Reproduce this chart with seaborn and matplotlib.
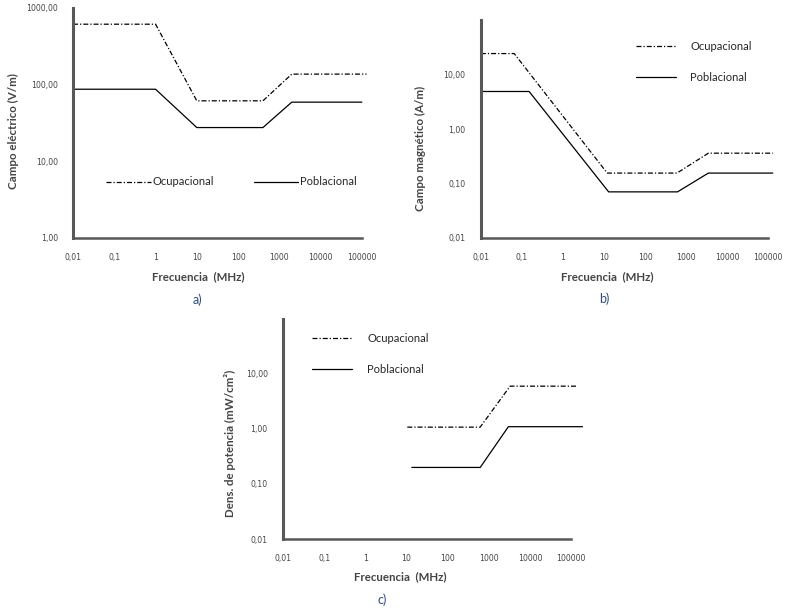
import matplotlib
matplotlib.use("Agg")
import matplotlib.pyplot as plt
import seaborn as sns

# Límites de exposición (frecuencia en MHz)
E_OCUP_F = [0.01, 1, 10, 400, 2000, 130000]
E_OCUP_V = [614, 614, 61.4, 61.4, 137, 137]
E_POBL_F = [0.01, 1, 10, 400, 2000, 100000]
E_POBL_V = [87, 87, 27.5, 27.5, 59, 59]

H_OCUP_F = [0.01, 0.065, 12, 600, 3500, 130000]
H_OCUP_V = [24.4, 24.4, 0.155, 0.155, 0.36, 0.36]
H_POBL_F = [0.01, 0.15, 13, 620, 3500, 130000]
H_POBL_V = [4.9, 4.9, 0.07, 0.07, 0.155, 0.155]

S_OCUP_F = [10.5, 620, 3300, 140000]
S_OCUP_V = [1.08, 1.08, 6.0, 6.0]
S_POBL_F = [13.5, 620, 3000, 190000]
S_POBL_V = [0.2, 0.2, 1.1, 1.1]

X_TICKS = [0.01, 0.1, 1, 10, 100, 1000, 10000, 100000]
X_LABELS = ["0,01", "0,1", "1", "10", "100", "1000", "10000", "100000"]

GRAY = "#585858"
DASHDOT = (0, (4, 1.6, 1, 1.6))

sns.set_style("white")
# ticks en DejaVu (cifras anchas); el resto del texto en Lato
plt.rcParams["font.family"] = ["DejaVu Sans"]
TXT_FONT = ["Lato", "DejaVu Sans"]

fig = plt.figure(figsize=(7.87, 6.13), dpi=100)


def style_axis(ax, ylim, yticks, ylabels):
    ax.set_xscale("log")
    ax.set_yscale("log")
    ax.set_xlim(0.01, 100000)
    ax.set_ylim(*ylim)
    ax.set_xticks(X_TICKS)
    ax.set_xticklabels(X_LABELS)
    ax.set_yticks(yticks)
    ax.set_yticklabels(ylabels)
    ax.minorticks_off()
    for s in ["top", "right"]:
        ax.spines[s].set_visible(False)
    ax.spines["left"].set_linewidth(2.2)
    ax.spines["bottom"].set_linewidth(1.8)
    for s in ["left", "bottom"]:
        ax.spines[s].set_color(GRAY)
    ax.tick_params(axis="both", length=3, width=1, color=GRAY,
                   labelsize=5.6, labelcolor="#444444", pad=8)
    ax.set_xlabel("")
    ax.set_ylabel("")


def draw(ax, fo, vo, fp, vp):
    sns.lineplot(x=fo, y=vo, ax=ax, color="black", lw=0.9, linestyle=DASHDOT,
                 estimator=None, sort=False, clip_on=False, label="Ocupacional")
    sns.lineplot(x=fp, y=vp, ax=ax, color="black", lw=0.9,
                 estimator=None, sort=False, clip_on=False, label="Poblacional")


leg_prop = {"family": TXT_FONT, "size": 8}

# a) Campo eléctrico
ax_a = fig.add_axes([0.0928, 0.612, 0.367, 0.375])
draw(ax_a, E_OCUP_F, E_OCUP_V, E_POBL_F, E_POBL_V)
style_axis(ax_a, (1, 1000), [1, 10, 100, 1000],
           ["1,00", "10,00", "100,00", "1000,00"])
ax_a.legend(loc="center left", bbox_to_anchor=(0.115, 0.243), ncol=2,
            frameon=False, prop=leg_prop, handlelength=4.0, handletextpad=0.15,
            columnspacing=3.6, borderpad=0, borderaxespad=0)

# b) Campo magnético
ax_b = fig.add_axes([0.611, 0.612, 0.365, 0.355])
draw(ax_b, H_OCUP_F, H_OCUP_V, H_POBL_F, H_POBL_V)
style_axis(ax_b, (0.01, 100), [0.01, 0.1, 1, 10],
           ["0,01", "0,10", "1,00", "10,00"])
ax_b.legend(loc="center left", bbox_to_anchor=(0.54, 0.807), frameon=False,
            prop=leg_prop, handlelength=3.6, handletextpad=1.3, labelspacing=1.8,
            borderpad=0, borderaxespad=0)

# c) Densidad de potencia
ax_c = fig.add_axes([0.3596, 0.1207, 0.366, 0.359])
draw(ax_c, S_OCUP_F, S_OCUP_V, S_POBL_F, S_POBL_V)
style_axis(ax_c, (0.01, 100), [0.01, 0.1, 1, 10],
           ["0,01", "0,10", "1,00", "10,00"])
ax_c.legend(loc="center left", bbox_to_anchor=(0.10, 0.839), frameon=False,
            prop=leg_prop, handlelength=3.6, handletextpad=1.4, labelspacing=1.8,
            borderpad=0, borderaxespad=0)

# Títulos de ejes y pies
lab = dict(fontsize=8.3, fontweight="bold", color="#444444", ha="center",
           va="center", family=TXT_FONT)
cap = dict(fontsize=9, color="#2f4a7a", ha="center", va="center", family=TXT_FONT)

fig.text(198 / 787, 1 - 277 / 613, "Frecuencia  (MHz)", **lab)
fig.text(607 / 787, 1 - 277 / 613, "Frecuencia  (MHz)", **lab)
fig.text(400 / 787, 1 - 577 / 613, "Frecuencia  (MHz)", **lab)

fig.text(13 / 787, 1 - 131 / 613, "Campo eléctrico (V/m)", rotation=90, **lab)
fig.text(420 / 787, 1 - 148 / 613, "Campo magnético (A/m)", rotation=90, **lab)
fig.text(230 / 787, 1 - 443 / 613, "Dens. de potencia (mW/cm²)", rotation=90, **lab)

fig.text(197 / 787, 1 - 300 / 613, "a)", **cap)
fig.text(604 / 787, 1 - 299 / 613, "b)", **cap)
fig.text(382 / 787, 1 - 600 / 613, "c)", **cap)

fig.savefig("out.png", dpi=100)
